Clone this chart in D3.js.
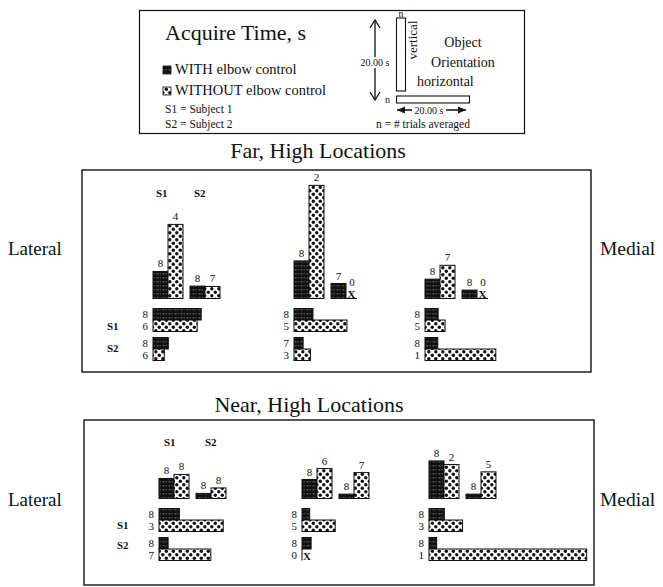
<!DOCTYPE html>
<html>
<head>
<meta charset="utf-8">
<script src="https://cdn.jsdelivr.net/npm/d3@7"></script>
<style>
  body { margin: 0; background: #fff; }
  text { font-family: "Liberation Serif", "DejaVu Serif", serif; fill: #111; }
</style>
</head>
<body>
<div id="chart"></div>
<script>
// Acquire time in seconds, order in each group: S1 WITH, S1 WITHOUT, S2 WITH, S2 WITHOUT
var farVertical   = [[7.4, 20.3, 3.4, 3.3], [10.3, 31.0, 4.1, 0], [5.3, 9.1, 2.3, 0]];
var farVerticalN  = [[8, 4, 8, 7], [8, 2, 7, 0], [8, 7, 8, 0]];
var farHorizontal  = [[13.2, 12.1, 4.2, 3.1], [5.2, 14.5, 2.5, 4.5], [3.6, 5.5, 3.5, 19.4]];
var farHorizontalN = [[8, 6, 8, 6], [8, 5, 7, 3], [8, 5, 8, 1]];

var nearVertical   = [[5.5, 6.6, 1.4, 2.9], [5.2, 8.2, 1.2, 7.1], [10.3, 9.3, 1.2, 7.3]];
var nearVerticalN  = [[8, 8, 8, 8], [8, 6, 8, 7], [8, 2, 8, 5]];
var nearHorizontal  = [[5.6, 17.6, 2.5, 14.2], [2.1, 9.1, 2.5, 0], [4.2, 9.2, 2.1, 43.2]];
var nearHorizontalN = [[8, 3, 8, 7], [8, 5, 8, 0], [8, 3, 8, 1]];

var conditions = ["WITH elbow control", "WITHOUT elbow control"];
var subjects = ["S1", "S2"];
var scaleSeconds = 20.00;

"use strict";
var width = 663, height = 587;

var svg = d3.select("#chart")
        .append("svg")
        .attr("width", width)
        .attr("height", height);

// one scale for every bar length (20 s = legend bar)
var len = d3.scaleLinear().domain([0, scaleSeconds]).range([0, 73]);

// fill patterns: dark with white dashes, light with black dots
var defs = svg.append("defs");
var pWith = defs.append("pattern").attr("id", "pWith")
        .attr("patternUnits", "userSpaceOnUse").attr("width", 6).attr("height", 4);
pWith.append("rect").attr("width", 6).attr("height", 4).attr("fill", "#111");
pWith.append("rect").attr("x", 0.5).attr("y", 1.5).attr("width", 2).attr("height", 0.7).attr("fill", "#999");
pWith.append("rect").attr("x", 3.5).attr("y", 1.5).attr("width", 1.5).attr("height", 0.7).attr("fill", "#777");

var pWithout = defs.append("pattern").attr("id", "pWithout")
        .attr("patternUnits", "userSpaceOnUse").attr("width", 7).attr("height", 7);
pWithout.append("rect").attr("width", 7).attr("height", 7).attr("fill", "#fff");
pWithout.append("circle").attr("cx", 1.8).attr("cy", 1.8).attr("r", 1.7).attr("fill", "#111");
pWithout.append("circle").attr("cx", 5.3).attr("cy", 5.3).attr("r", 1.7).attr("fill", "#111");

var fills = ["url(#pWith)", "url(#pWithout)"];

//----- legend box
var lg = svg.append("g");
lg.append("rect").attr("x", 139.5).attr("y", 10.5).attr("width", 385).attr("height", 123)
        .attr("fill", "none").attr("stroke", "#111").attr("stroke-width", 1.2);
lg.append("text").attr("x", 165).attr("y", 40).style("font-size", "22px").text("Acquire Time, s");

conditions.forEach(function (c, i) {
    lg.append("rect").attr("x", 163).attr("y", 66 + i * 21).attr("width", 8).attr("height", 8)
            .attr("fill", fills[i]).attr("stroke", "#111").attr("stroke-width", 0.8);
    lg.append("text").attr("x", 175).attr("y", 74 + i * 21).style("font-size", "14.5px").text(c);
});
subjects.forEach(function (s, i) {
    lg.append("text").attr("x", 165).attr("y", 113 + i * 15).style("font-size", "11.5px")
            .text(s + " = Subject " + (i + 1));
});

// vertical scale bar with double arrow
lg.append("line").attr("x1", 375).attr("x2", 375).attr("y1", 21).attr("y2", 99)
        .attr("stroke", "#111").attr("stroke-width", 1.3);
lg.append("path").attr("d", "M370,28 L375,20 L380,28 M370,92 L375,100 L380,92")
        .attr("fill", "none").attr("stroke", "#111").attr("stroke-width", 1.3);
lg.append("rect").attr("x", 357).attr("y", 57).attr("width", 34).attr("height", 11).attr("fill", "#fff");
lg.append("text").attr("x", 375).attr("y", 66).attr("text-anchor", "middle")
        .style("font-size", "10px").text(scaleSeconds.toFixed(2) + " s");
lg.append("rect").attr("x", 396.5).attr("y", 91 - len(scaleSeconds)).attr("width", 9).attr("height", len(scaleSeconds))
        .attr("fill", "#fff").attr("stroke", "#111").attr("stroke-width", 1.1);
lg.append("text").attr("x", 401).attr("y", 17).attr("text-anchor", "middle").style("font-size", "10px").text("n");
lg.append("text").attr("transform", "translate(417,40) rotate(-90)").attr("text-anchor", "middle")
        .style("font-size", "13px").text("vertical");
lg.append("text").attr("x", 463).attr("y", 47).attr("text-anchor", "middle").style("font-size", "14px").text("Object");
lg.append("text").attr("x", 463).attr("y", 67).attr("text-anchor", "middle").style("font-size", "14px").text("Orientation");
lg.append("text").attr("x", 417).attr("y", 86).style("font-size", "14px").text("horizontal");

// horizontal scale bar
lg.append("rect").attr("x", 396.5).attr("y", 96).attr("width", len(scaleSeconds)).attr("height", 7)
        .attr("fill", "#fff").attr("stroke", "#111").attr("stroke-width", 1.1);
lg.append("text").attr("x", 390).attr("y", 103).attr("text-anchor", "end").style("font-size", "10px").text("n");
lg.append("line").attr("x1", 397).attr("x2", 466).attr("y1", 110).attr("y2", 110)
        .attr("stroke", "#111").attr("stroke-width", 1.3);
lg.append("path").attr("d", "M397,110 L405,106.5 L405,113.5 Z M466,110 L458,106.5 L458,113.5 Z").attr("fill", "#111");
lg.append("rect").attr("x", 412).attr("y", 105).attr("width", 34).attr("height", 10).attr("fill", "#fff");
lg.append("text").attr("x", 429).attr("y", 113.5).attr("text-anchor", "middle")
        .style("font-size", "10px").text(scaleSeconds.toFixed(2) + " s");
lg.append("text").attr("x", 423).attr("y", 128).attr("text-anchor", "middle")
        .style("font-size", "11.5px").text("n = # trials averaged");

//----- one panel of three location groups
function drawPanel(opt) {
    var g = svg.append("g");
    g.append("text").attr("x", opt.titleX).attr("y", opt.titleY).attr("text-anchor", "middle")
            .style("font-size", "22px").text(opt.title);
    g.append("rect").attr("x", opt.box[0]).attr("y", opt.box[1]).attr("width", opt.box[2]).attr("height", opt.box[3])
            .attr("fill", "none").attr("stroke", "#111").attr("stroke-width", 1.4);
    g.append("text").attr("x", 8).attr("y", opt.sideY).style("font-size", "19px").text("Lateral");
    g.append("text").attr("x", 600).attr("y", opt.sideY).style("font-size", "19.5px").text("Medial");

    // column and row subject headers
    subjects.forEach(function (s, i) {
        g.append("text").attr("x", opt.origins[0] + opt.colDx[i]).attr("y", opt.colY)
                .style("font-size", "11px").style("font-weight", "bold").text(s);
        g.append("text").attr("x", opt.rowX).attr("y", opt.base + opt.rowDy[i])
                .style("font-size", "11px").style("font-weight", "bold").text(s);
    });

    var bw = 15, bh = 11.5;
    opt.vertical.forEach(function (vals, k) {
        var x0 = opt.origins[k], base = opt.base;
        // vertical-orientation bars
        vals.forEach(function (v, j) {
            var x = x0 + (j >= 2 ? 37 : 0) + (j % 2) * bw;
            var n = opt.verticalN[k][j];
            if (n === 0) {
                g.append("line").attr("x1", x).attr("x2", x + 11).attr("y1", base).attr("y2", base)
                        .attr("stroke", "#111").attr("stroke-width", 1);
                g.append("text").attr("x", x + 5.5).attr("y", base - 1).attr("text-anchor", "middle")
                        .style("font-size", "11px").style("font-weight", "bold").text("X");
                g.append("text").attr("x", x + 6).attr("y", base - 13).attr("text-anchor", "middle")
                        .style("font-size", "11px").text(n);
                return;
            }
            g.append("rect").attr("x", x).attr("y", base - len(v)).attr("width", bw).attr("height", len(v))
                    .attr("fill", fills[j % 2]).attr("stroke", "#111").attr("stroke-width", 1);
            g.append("text").attr("x", x + bw / 2).attr("y", base - len(v) - 4).attr("text-anchor", "middle")
                    .style("font-size", "11px").text(n);
        });
        // horizontal-orientation bars
        opt.horizontal[k].forEach(function (v, j) {
            var y = base + 10 + j * bh + (j >= 2 ? 6 : 0);
            var n = opt.horizontalN[k][j];
            g.append("text").attr("x", x0 - 5).attr("y", y + bh / 2 + 4).attr("text-anchor", "end")
                    .style("font-size", "11px").text(n);
            if (n === 0) {
                g.append("line").attr("x1", x0).attr("x2", x0).attr("y1", y).attr("y2", y + bh)
                        .attr("stroke", "#111").attr("stroke-width", 1);
                g.append("text").attr("x", x0 + 1).attr("y", y + bh - 1)
                        .style("font-size", "11px").style("font-weight", "bold").text("X");
                return;
            }
            g.append("rect").attr("x", x0).attr("y", y).attr("width", len(v)).attr("height", bh)
                    .attr("fill", fills[j % 2]).attr("stroke", "#111").attr("stroke-width", 1);
        });
    });
}

drawPanel({
    title: "Far, High Locations", titleX: 318, titleY: 158,
    box: [82, 170, 509, 202], sideY: 255,
    origins: [153, 294, 425], base: 298.5,
    colDx: [3, 41], colY: 197, rowX: 107, rowDy: [31, 53],
    vertical: farVertical, verticalN: farVerticalN,
    horizontal: farHorizontal, horizontalN: farHorizontalN
});

drawPanel({
    title: "Near, High Locations", titleX: 309, titleY: 412,
    box: [84, 420, 510, 165], sideY: 506,
    origins: [159, 302, 429], base: 498.5,
    colDx: [5, 46], colY: 446, rowX: 117, rowDy: [30, 50],
    vertical: nearVertical, verticalN: nearVerticalN,
    horizontal: nearHorizontal, horizontalN: nearHorizontalN
});
</script>
</body>
</html>
